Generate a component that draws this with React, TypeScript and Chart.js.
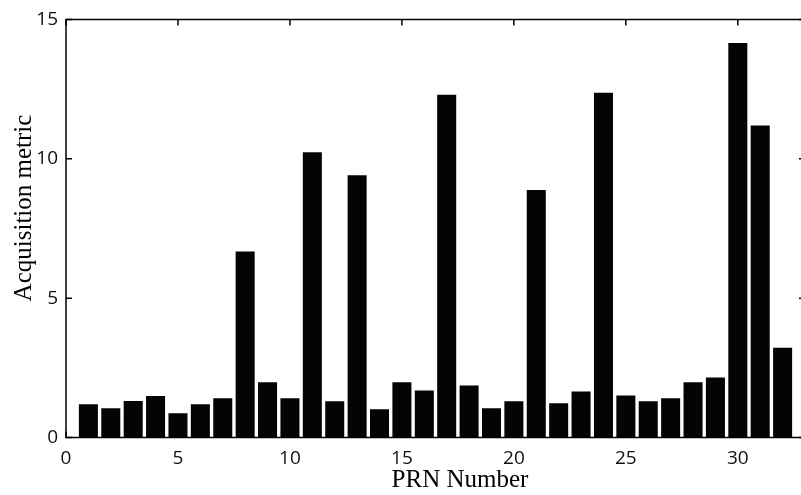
import React, { useEffect, useRef } from "react";
import { Chart, registerables } from "chart.js";

Chart.register(...registerables);

const prn = [1, 2, 3, 4, 5, 6, 7, 8, 9, 10, 11, 12, 13, 14, 15, 16, 17, 18, 19, 20, 21, 22, 23, 24, 25, 26, 27, 28, 29, 30, 31, 32];
const metric = [1.19, 1.05, 1.31, 1.49, 0.87, 1.19, 1.41, 6.67, 1.98, 1.41, 10.23, 1.3, 9.41, 1.01, 1.98, 1.69, 12.3, 1.87, 1.05, 1.3, 8.88, 1.23, 1.65, 12.37, 1.51, 1.3, 1.41, 1.98, 2.15, 14.15, 11.19, 3.22];
const xTicks = [0, 5, 10, 15, 20, 25, 30];
const yTicks = [0, 5, 10, 15];
const xTitle = "PRN Number";
const yTitle = "Acquisition metric";

const tickFont = { family: '"Open Sans", "Noto Sans", sans-serif', size: 19 };
const titleFont = '25px "Liberation Serif", "Times New Roman", serif';

export default function App() {
  const ref = useRef<HTMLCanvasElement>(null);

  useEffect(() => {
    if (!ref.current) return;
    const frame = {
      id: "frame",
      afterDraw(chart: any) {
        const { ctx, chartArea } = chart;
        const { left, right, top, bottom } = chartArea;
        const xs = chart.scales.x;
        const ys = chart.scales.y;
        ctx.save();
        ctx.strokeStyle = "#000";
        ctx.lineWidth = 1.5;
        ctx.beginPath();
        ctx.rect(left, top, right - left, bottom - top);
        ctx.stroke();
        const tl = 6;
        ctx.beginPath();
        xTicks.forEach((v) => {
          const px = xs.getPixelForValue(v);
          ctx.moveTo(px, bottom);
          ctx.lineTo(px, bottom - tl);
          ctx.moveTo(px, top);
          ctx.lineTo(px, top + tl);
        });
        yTicks.forEach((v) => {
          const py = ys.getPixelForValue(v);
          ctx.moveTo(left, py);
          ctx.lineTo(left + tl, py);
          ctx.moveTo(right, py);
          ctx.lineTo(right - tl, py);
        });
        ctx.stroke();

        ctx.fillStyle = "#000";
        ctx.font = titleFont;
        ctx.textAlign = "center";
        ctx.textBaseline = "alphabetic";
        ctx.fillText(xTitle, 460, 487);
        ctx.translate(31, 208);
        ctx.rotate(-Math.PI / 2);
        ctx.fillText(yTitle, 0, 0);
        ctx.restore();
      },
    };

    const chart = new Chart(ref.current, {
      type: "bar",
      data: {
        datasets: [
          {
            data: prn.map((p, i) => ({ x: p, y: metric[i] })),
            backgroundColor: "#030505",
            borderWidth: 0,
            barPercentage: 0.85,
            categoryPercentage: 1,
          },
        ],
      },
      options: {
        responsive: false,
        animation: false,
        devicePixelRatio: 1,
        layout: { padding: { left: 0, top: 16, right: 15, bottom: 0 } },
        plugins: { legend: { display: false }, tooltip: { enabled: false } },
        scales: {
          x: {
            type: "linear",
            min: 0,
            max: 33,
            offset: false,
            grid: { display: false, drawTicks: false, offset: false },
            border: { display: false },
            afterBuildTicks: (s: any) => {
              s.ticks = xTicks.map((v) => ({ value: v }));
            },
            afterFit: (s: any) => {
              s.height = 57.5;
            },
            ticks: { padding: 10, font: tickFont, color: "#111", maxRotation: 0, autoSkip: false },
          },
          y: {
            min: 0,
            max: 15,
            grid: { display: false, drawTicks: false },
            border: { display: false },
            afterBuildTicks: (s: any) => {
              s.ticks = yTicks.map((v) => ({ value: v }));
            },
            afterFit: (s: any) => {
              s.width = 66;
            },
            ticks: { padding: 8, font: tickFont, color: "#111" },
          },
        },
      } as any,
      plugins: [frame],
    });
    return () => chart.destroy();
  }, []);

  return (
    <div
      style={{
        position: "fixed",
        left: 0,
        top: 0,
        width: 801,
        height: 495,
        overflow: "hidden",
        background: "#fff",
      }}
    >
      <canvas ref={ref} width={820} height={495} style={{ display: "block" }} />
    </div>
  );
}
